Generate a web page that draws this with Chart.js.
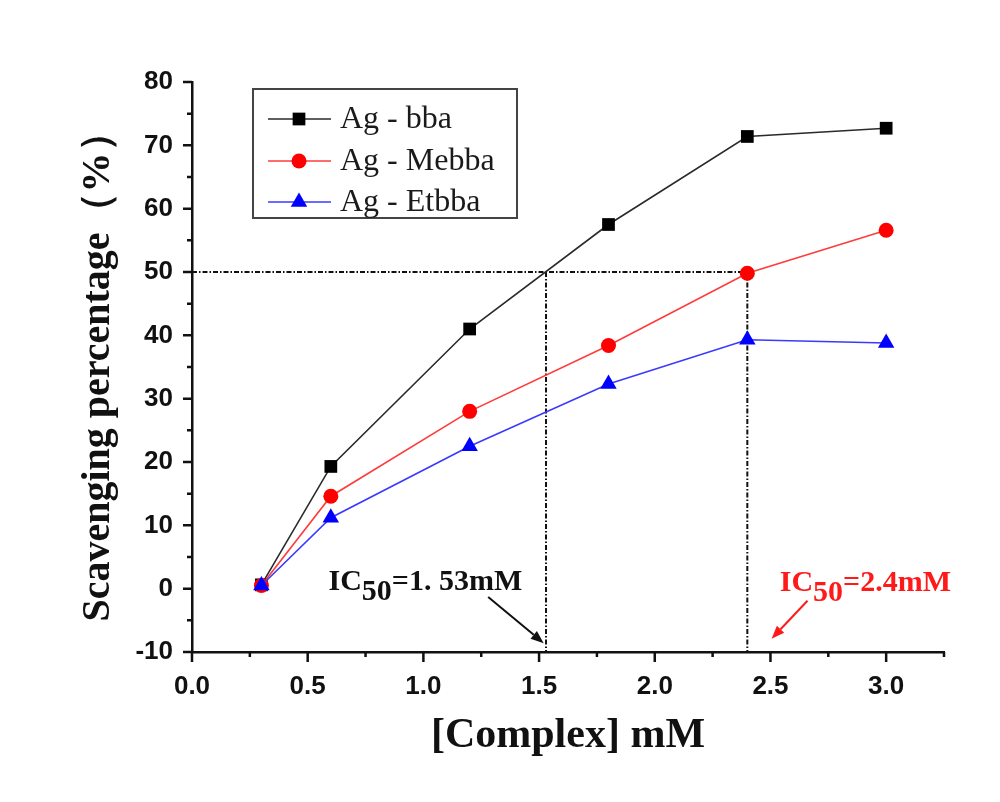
<!DOCTYPE html>
<html>
<head>
<meta charset="utf-8">
<title>Scavenging percentage</title>
<script src="https://cdn.jsdelivr.net/npm/chart.js@4.4.0/dist/chart.umd.min.js"></script>
<style>
    html, body { margin: 0; padding: 0; background: #ffffff; }
    #wrap { width: 1000px; height: 802px; }
</style>
</head>
<body>
<div id="wrap"><canvas id="chart" width="1000" height="802"></canvas></div>
<script>
// Complex concentration (mM) and scavenging percentage for each silver complex
const concentrations = [0.3, 0.6, 1.2, 1.8, 2.4, 3.0];
const bbaValues = [0.6, 19.3, 41.0, 57.5, 71.4, 72.7];
const mebbaValues = [0.5, 14.6, 28.0, 38.4, 49.8, 56.6];
const etbbaValues = [0.5, 11.2, 22.5, 32.3, 39.3, 38.8];
const seriesNames = ['Ag - bba', 'Ag - Mebba', 'Ag - Etbba'];

// Axis ticks (labelled ones); minor ticks sit halfway between them
const xMajorTicks = [0.0, 0.5, 1.0, 1.5, 2.0, 2.5, 3.0];
const yMajorTicks = [-10, 0, 10, 20, 30, 40, 50, 60, 70, 80];

// IC50 read-outs at the 50 % level
const halfLevel = 50;
const ic50Bba = 1.53;
const ic50Mebba = 2.4;

const serif = '"Liberation Serif", "Times New Roman", Times, serif';
const sans = '"Liberation Sans", Arial, Helvetica, sans-serif';

const seriesStyles = [
    { line: '#2a2a2a', fill: '#000000', pointStyle: 'rect', radius: 9 },
    { line: '#ff3b3b', fill: '#ff0000', pointStyle: 'circle', radius: 7.5 },
    { line: '#3a3aff', fill: '#0000ff', pointStyle: 'triangle', radius: 9.5 }
];

function withMinors(majors, extraEnd) {
    const out = [];
    majors.forEach((v, i) => {
        out.push(v);
        if (i < majors.length - 1) out.push((v + majors[i + 1]) / 2);
    });
    if (extraEnd !== undefined) out.push(extraEnd);
    return out;
}

const xTickValues = withMinors(xMajorTicks, 3.25);
const yTickValues = withMinors(yMajorTicks);

function isMajor(list, v) {
    return list.some(m => Math.abs(m - v) < 1e-9);
}

function makeDataset(name, values, style, order) {
    return {
        label: name,
        data: concentrations.map((c, i) => ({ x: c, y: values[i] })),
        borderColor: style.line,
        borderWidth: 1.6,
        backgroundColor: style.fill,
        pointBackgroundColor: style.fill,
        pointBorderColor: style.fill,
        pointBorderWidth: 0,
        pointStyle: style.pointStyle,
        pointRadius: style.radius,
        tension: 0,
        order: order
    };
}

function drawMarker(ctx, style, cx, cy) {
    ctx.fillStyle = style.fill;
    ctx.beginPath();
    if (style.pointStyle === 'rect') {
        const s = style.radius * Math.SQRT1_2;
        ctx.rect(cx - s, cy - s, 2 * s, 2 * s);
    } else if (style.pointStyle === 'circle') {
        ctx.arc(cx, cy, style.radius, 0, Math.PI * 2);
    } else {
        const r = style.radius;
        ctx.moveTo(cx, cy - r);
        ctx.lineTo(cx + r * Math.cos(Math.PI / 6), cy + r * 0.5);
        ctx.lineTo(cx - r * Math.cos(Math.PI / 6), cy + r * 0.5);
        ctx.closePath();
    }
    ctx.fill();
}

function drawArrow(ctx, x1, y1, x2, y2, color) {
    const ang = Math.atan2(y2 - y1, x2 - x1);
    const head = 13;
    const half = 5;
    ctx.strokeStyle = color;
    ctx.fillStyle = color;
    ctx.lineWidth = 2;
    ctx.beginPath();
    ctx.moveTo(x1, y1);
    ctx.lineTo(x2 - head * Math.cos(ang), y2 - head * Math.sin(ang));
    ctx.stroke();
    ctx.beginPath();
    ctx.moveTo(x2, y2);
    ctx.lineTo(x2 - head * Math.cos(ang) + half * Math.sin(ang), y2 - head * Math.sin(ang) - half * Math.cos(ang));
    ctx.lineTo(x2 - head * Math.cos(ang) - half * Math.sin(ang), y2 - head * Math.sin(ang) + half * Math.cos(ang));
    ctx.closePath();
    ctx.fill();
}

function drawIcLabel(ctx, px, py, text, color) {
    ctx.font = 'bold 30px ' + serif;
    ctx.fillStyle = color;
    ctx.textAlign = 'left';
    ctx.textBaseline = 'alphabetic';
    ctx.fillText('IC', px, py);
    let w = ctx.measureText('IC').width;
    ctx.fillText('50', px + w, py + 10);
    w += ctx.measureText('50').width;
    ctx.fillText(text, px + w, py);
}

const overlay = {
    id: 'overlay',
    beforeDatasetsDraw(chart) {
        const { ctx, scales: { x, y } } = chart;
        const y50 = y.getPixelForValue(halfLevel);
        const yBottom = y.getPixelForValue(y.min);
        ctx.save();
        ctx.strokeStyle = '#111111';
        ctx.lineWidth = 2;
        ctx.setLineDash([5, 2, 1.5, 2]);
        ctx.beginPath();
        ctx.moveTo(x.getPixelForValue(0), y50);
        ctx.lineTo(x.getPixelForValue(ic50Mebba), y50);
        [ic50Bba, ic50Mebba].forEach(v => {
            const px = x.getPixelForValue(v);
            ctx.moveTo(px, y50);
            ctx.lineTo(px, yBottom);
        });
        ctx.stroke();
        ctx.restore();
    },
    afterDraw(chart) {
        const { ctx, chartArea, scales: { x, y } } = chart;
        ctx.save();

        // outward tick marks, long for labelled values, short for the halves
        ctx.strokeStyle = '#111111';
        ctx.lineWidth = 2.5;
        ctx.beginPath();
        y.ticks.forEach(t => {
            const py = y.getPixelForValue(t.value);
            const len = isMajor(yMajorTicks, t.value) ? 9 : 5;
            ctx.moveTo(chartArea.left - len, py);
            ctx.lineTo(chartArea.left, py);
        });
        x.ticks.forEach(t => {
            const px = x.getPixelForValue(t.value);
            const len = isMajor(xMajorTicks, t.value) ? 10 : 5;
            ctx.moveTo(px, chartArea.bottom);
            ctx.lineTo(px, chartArea.bottom + len);
        });
        ctx.stroke();

        // legend box
        const box = { left: 253, top: 89, right: 517, bottom: 218 };
        ctx.lineWidth = 2;
        ctx.strokeStyle = '#444444';
        ctx.strokeRect(box.left, box.top, box.right - box.left, box.bottom - box.top);
        const rowYs = [119, 161, 202];
        seriesNames.forEach((name, i) => {
            const st = seriesStyles[i];
            const ry = rowYs[i];
            ctx.strokeStyle = st.line;
            ctx.lineWidth = 1.6;
            ctx.beginPath();
            ctx.moveTo(268, ry);
            ctx.lineTo(331, ry);
            ctx.stroke();
            drawMarker(ctx, st, 299, ry);
            ctx.font = '32px ' + serif;
            ctx.fillStyle = '#1a1a1a';
            ctx.textAlign = 'left';
            ctx.textBaseline = 'middle';
            ctx.fillText(name, 340, ry + 1);
        });

        // IC50 call-outs
        drawIcLabel(ctx, x.getPixelForValue(0.59), y.getPixelForValue(-0.2), '=1. 53mM', '#111111');
        drawArrow(ctx, x.getPixelForValue(1.28), y.getPixelForValue(-1.3),
            x.getPixelForValue(1.52), y.getPixelForValue(-8.6), '#111111');
        drawIcLabel(ctx, x.getPixelForValue(2.54), y.getPixelForValue(-0.4), '=2.4mM', '#ff1a1a');
        drawArrow(ctx, x.getPixelForValue(2.66), y.getPixelForValue(-1.9),
            x.getPixelForValue(2.505), y.getPixelForValue(-7.9), '#ff1a1a');

        ctx.restore();
    }
};

const ctx = document.getElementById('chart').getContext('2d');

new Chart(ctx, {
    type: 'line',
    data: {
        datasets: [
            makeDataset(seriesNames[0], bbaValues, seriesStyles[0], 3),
            makeDataset(seriesNames[1], mebbaValues, seriesStyles[1], 2),
            makeDataset(seriesNames[2], etbbaValues, seriesStyles[2], 1)
        ]
    },
    options: {
        responsive: false,
        animation: false,
        devicePixelRatio: 1,
        layout: {
            padding: { left: 0, top: 82, right: 56, bottom: 0 }
        },
        plugins: {
            legend: { display: false },
            tooltip: { enabled: false }
        },
        scales: {
            x: {
                type: 'linear',
                min: 0,
                max: 3.25,
                afterBuildTicks(scale) {
                    scale.ticks = xTickValues.map(v => ({ value: v }));
                },
                afterFit(scale) {
                    scale.height = 150;
                },
                grid: { display: false },
                border: { display: true, color: '#111111', width: 2.5 },
                ticks: {
                    autoSkip: false,
                    maxRotation: 0,
                    padding: 11,
                    color: '#111111',
                    font: { family: sans, weight: 'bold', size: 26 },
                    callback: v => isMajor(xMajorTicks, v) ? v.toFixed(1) : ''
                },
                title: {
                    display: true,
                    text: '[Complex] mM',
                    color: '#111111',
                    font: { family: serif, weight: 'bold', size: 42 },
                    padding: { top: 0, bottom: 41 }
                }
            },
            y: {
                type: 'linear',
                min: -10,
                max: 80,
                afterBuildTicks(scale) {
                    scale.ticks = yTickValues.map(v => ({ value: v }));
                },
                afterFit(scale) {
                    scale.width = 192;
                },
                grid: { display: false },
                border: { display: true, color: '#111111', width: 2.5 },
                ticks: {
                    autoSkip: false,
                    padding: 11,
                    color: '#111111',
                    font: { family: sans, weight: 'bold', size: 26 },
                    callback: v => isMajor(yMajorTicks, v) ? String(v) : ''
                },
                title: {
                    display: true,
                    text: 'Scavenging percentage（%）',
                    color: '#111111',
                    font: { family: serif, weight: 'bold', size: 40 },
                    padding: { top: 75, bottom: 0 }
                }
            }
        }
    },
    plugins: [overlay]
});
</script>
</body>
</html>
